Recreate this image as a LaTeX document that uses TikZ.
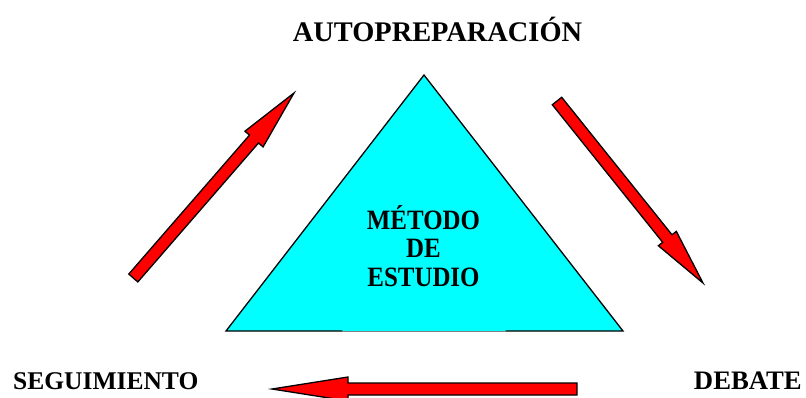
\documentclass[tikz,border=0pt]{standalone}
\usepackage{fontspec}
\setmainfont{Liberation Serif}
\usetikzlibrary{calc}
\definecolor{tricyan}{RGB}{0,255,255}
\definecolor{arrred}{RGB}{255,0,0}
\tikzset{
  blockarrow/.style={fill=arrred, draw=black, line width=1.3pt, line join=miter},
  outerlabel/.style={inner sep=0pt, anchor=base, font=\bfseries\fontsize{26}{30}\selectfont},
  innerlabel/.style={inner sep=0pt, anchor=base, font=\bfseries\fontsize{28}{30}\selectfont},
  triedge/.style={draw=black, line width=1.3pt, line cap=round},
}
% #1 tail, #2 tip, #3 head length, #4 shaft half width, #5 head half width
\newcommand{\mkblockarrow}[5]{%
  \coordinate (hb) at ($(#2)!#3!(#1)$);
  \draw[blockarrow] ($(#1)!#4!90:(#2)$) -- ($(hb)!#4!-90:(#1)$) -- ($(hb)!#5!-90:(#1)$) -- (#2)
    -- ($(hb)!#5!90:(#1)$) -- ($(hb)!#4!90:(#1)$) -- ($(#1)!#4!-90:(#2)$) -- cycle;
}
\begin{document}
\begin{tikzpicture}[x=1pt,y=-1pt]
\useasboundingbox (0,0) rectangle (806,397);
\clip (0,0) rectangle (806,397);
% triangle
\coordinate (apex) at (424,75);
\coordinate (bl) at (226,331);
\coordinate (br) at (623,331);
\coordinate (gapl) at (342,331);
\coordinate (gapr) at (506,331);
\fill[tricyan] (apex) -- (br) -- (bl) -- cycle;
\draw[triedge] (gapl) -- (bl) -- (apex) -- (br) -- (gapr);
\draw[gray, line width=0.8pt] (gapl) -- (gapr);
% labels
\node[outerlabel, font=\bfseries\fontsize{28.4}{30}\selectfont] (auto) at (437.5,41) {AUTOPREPARACIÓN};
\node[outerlabel, anchor=base west, font=\bfseries\fontsize{25.5}{30}\selectfont] (seg) at (13,389) {SEGUIMIENTO};
\node[outerlabel, anchor=base east, font=\bfseries\fontsize{26.7}{30}\selectfont] (deb) at (802,389) {DEBATE};
\node[innerlabel] (m1) at (423.5,229) {\scalebox{0.89}[1]{MÉTODO}};
\node[innerlabel] (m2) at (423.5,257.5) {\scalebox{0.89}[1]{DE}};
\node[innerlabel] (m3) at (423.5,286) {\scalebox{0.89}[1]{ESTUDIO}};
% arrows
\coordinate (a1t) at (133.3,278);
\coordinate (a1h) at (294,93);
\coordinate (a2t) at (557,101);
\coordinate (a2h) at (703,283);
\coordinate (a3t) at (577,389);
\coordinate (a3h) at (272,389);
\mkblockarrow{a1t}{a1h}{61pt}{6pt}{12pt}
\mkblockarrow{a2t}{a2h}{57pt}{6pt}{11.5pt}
\mkblockarrow{a3t}{a3h}{76pt}{6pt}{12pt}
\end{tikzpicture}
\end{document}
